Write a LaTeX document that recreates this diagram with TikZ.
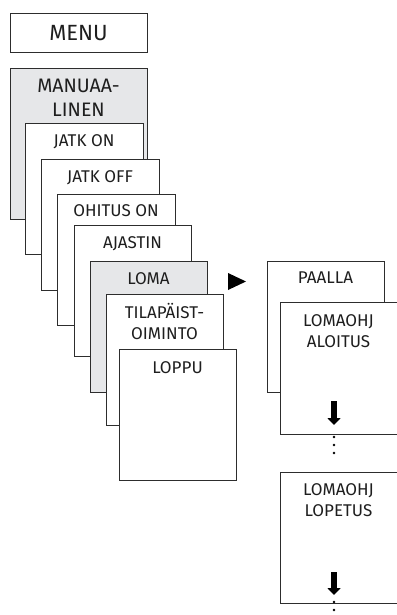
\documentclass[tikz,border=0pt]{standalone}
\usepackage{fontspec}
\setmainfont{Fira Sans}
\usetikzlibrary{arrows.meta}
\definecolor{boxgray}{RGB}{230,231,233}
\definecolor{edge}{RGB}{45,45,45}
\definecolor{ink}{RGB}{30,30,30}
\tikzset{
  box/.style={draw=edge, line width=1pt, fill=white, rectangle, inner sep=0pt, anchor=north west},
  graybox/.style={box, fill=boxgray},
  lbl/.style={text=ink, inner sep=0pt, anchor=base, align=center, font=\fontsize{17}{21}\selectfont},
  biglbl/.style={lbl, font=\fontsize{19.5}{24}\selectfont},
  menulbl/.style={lbl, font=\fontsize{22}{26}\selectfont},
  downarrow/.style={draw=black, line width=5.5pt, -{Triangle[length=7pt,width=13pt]}},
  dot/.style={circle, fill=black, inner sep=0pt, minimum size=2.6pt},
}
\begin{document}
\begin{tikzpicture}[x=1pt,y=-1pt]
\useasboundingbox (0,0) rectangle (396,615);
% menu
\node[box, minimum width=137pt, minimum height=39pt] (menu) at (10,13) {};
\node[menulbl] (menut) at (78.5,41) {MENU};
% staircase
\node[graybox, minimum width=137pt, minimum height=151pt] (manu) at (10,68) {};
\node[biglbl] (manut) at (78.5,117) {MANUAA-\\LINEN};
\node[box, minimum width=118pt, minimum height=131pt] (jatkon) at (25,123) {};
\node[lbl] (jatkont) at (84,146) {JATK ON};
\node[box, minimum width=118pt, minimum height=131pt] (jatkoff) at (41,159) {};
\node[lbl] (jatkofft) at (100,182) {JATK OFF};
\node[box, minimum width=118pt, minimum height=131pt] (ohitus) at (57,194) {};
\node[lbl] (ohitust) at (116,216) {OHITUS ON};
\node[box, minimum width=117pt, minimum height=131pt] (ajastin) at (74,225) {};
\node[lbl] (ajastint) at (132.5,248) {AJASTIN};
\node[graybox, minimum width=117pt, minimum height=131pt] (loma) at (90,261) {};
\node[lbl] (lomat) at (148.5,284) {LOMA};
\node[box, minimum width=117pt, minimum height=131pt] (tila) at (106,294) {};
\node[lbl] (tilat) at (164.5,339) {TILAPÄIST-\\OIMINTO};
\node[box, minimum width=117pt, minimum height=131pt] (loppu) at (119,349) {};
\node[lbl] (lopput) at (177.5,373) {LOPPU};
% pointer
\fill[black] (228,273) -- (246,281.5) -- (228,290) -- cycle;
% right column
\node[box, minimum width=117pt, minimum height=131pt] (paalla) at (267,261) {};
\node[lbl] (paallat) at (325.5,283) {PAALLA};
\node[box, minimum width=120pt, minimum height=132pt] (aloitus) at (280,302) {};
\node[lbl] (aloitust) at (338.5,347) {LOMAOHJ\\ALOITUS};
\draw[downarrow] (334,401) -- (334,425);
\node[dot] (d1) at (334,437) {};
\node[dot] (d2) at (334,445) {};
\node[dot] (d3) at (334,453) {};
\node[box, minimum width=120pt, minimum height=131pt] (lopetus) at (280,472) {};
\node[lbl] (lopetust) at (338.5,516) {LOMAOHJ\\LOPETUS};
\draw[downarrow] (334,572) -- (334,595);
\node[dot] (d4) at (334,602) {};
\node[dot] (d5) at (334,610) {};
\end{tikzpicture}
\end{document}
